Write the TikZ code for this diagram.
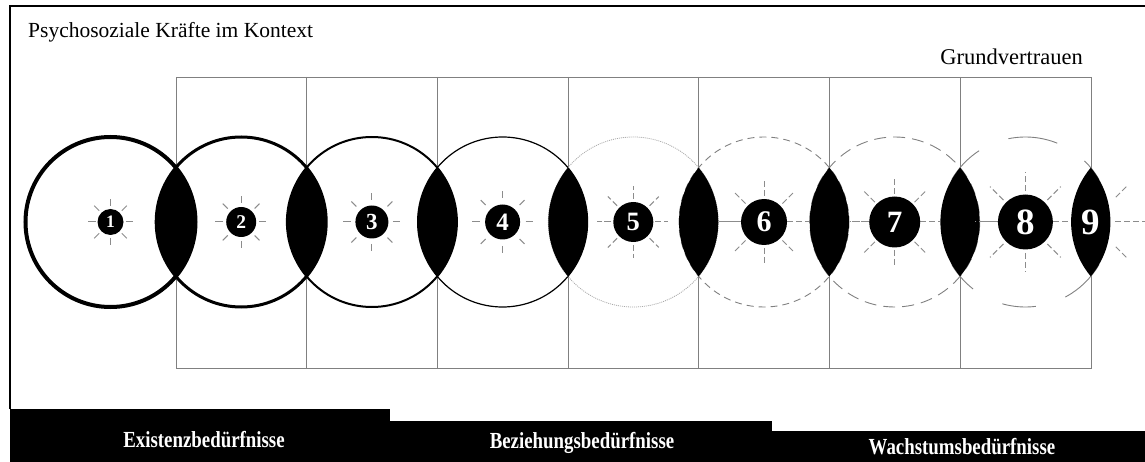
\documentclass[tikz,border=0pt]{standalone}
\usepackage{fontspec}
\usepackage{graphicx}
\setmainfont{Liberation Serif}
\usetikzlibrary{calc}
\definecolor{gridgray}{HTML}{808080}
\definecolor{raygray}{HTML}{8C8C8C}
\definecolor{lightgray}{HTML}{A8A8A8}
\newcommand{\condensed}[1]{\scalebox{0.82}[1]{#1}}
\begin{document}
\begin{tikzpicture}[x=1pt,y=-1pt,
  gridline/.style={draw=gridgray, line width=0.9pt},
  ray/.style={draw=raygray, line width=1pt},
  dray/.style={draw=raygray, line width=1pt, dash pattern=on 6pt off 3pt},
  sun/.style={circle, fill=black, inner sep=0pt, text=white},
  ringa/.style={draw=black, line width=4pt},
  ringb/.style={draw=black, line width=3pt},
  ringc/.style={draw=black, line width=2pt},
  ringd/.style={draw=black, line width=1.2pt},
  ringe/.style={draw=lightgray, line width=0.8pt, dash pattern=on 1pt off 1pt},
  ringf/.style={draw=gridgray, line width=0.9pt, dash pattern=on 7pt off 5pt},
  ringg/.style={draw=gridgray, line width=0.9pt, dash pattern=on 12pt off 7pt},
  ringh/.style={draw=gridgray, line width=0.9pt},
  bar/.style={fill=black},
  barlabel/.style={text=white, font=\bfseries\fontsize{23}{23}\selectfont, inner sep=0pt},
  plain/.style={text=black, inner sep=0pt}
]
\useasboundingbox (0,0) rectangle (1145,462);

% centres
\foreach \k in {1,...,10} \coordinate (c\k) at ({110.5+130.7*(\k-1)},222);

% frame
\draw[line width=1.5pt] (10,409) -- (10,6) -- (1146,6);

% title texts
\node[plain, anchor=base west, font=\fontsize{21.5}{21.5}\selectfont] (title) at (28,38) {Psychosoziale Kräfte im Kontext};
\node[plain, anchor=base east, font=\fontsize{22.5}{22.5}\selectfont] (gv) at (1083,65) {Grundvertrauen};

% grid
\draw[gridline] (176,77) rectangle (1091,368);
\foreach \i in {1,...,6} \draw[gridline] ({176+130.7*\i},77) -- ({176+130.7*\i},368);

% rings
\draw[ringa] (c1) circle (85);
\draw[ringb] (c2) circle (85);
\draw[ringc] (c3) circle (85);
\draw[ringd] (c4) circle (85);
\draw[ringe] (c5) circle (85);
\draw[ringf] (c6) circle (85);
\draw[ringg] (c7) circle (85);
\draw[ringh] (c8) ++(-68:85) arc[start angle=-68, end angle=-101.5, radius=85];
\draw[ringh] (c8) ++(-123:85) arc[start angle=-123, end angle=-150, radius=85];
\draw[ringh] (c8) ++(-30:85) arc[start angle=-30, end angle=-46, radius=85];
\draw[ringh] (c8) ++(62:85) arc[start angle=62, end angle=30, radius=85];
\draw[ringh] (c8) ++(105.7:85) arc[start angle=105.7, end angle=83, radius=85];
\draw[ringh] (c8) ++(150:85) arc[start angle=150, end angle=128, radius=85];

% lenses
\foreach \k [evaluate=\k as \n using int(\k+1)] in {1,...,8} {
  \begin{scope}
    \clip (c\k) circle (85);
    \fill[black] (c\n) circle (85);
  \end{scope}
}

% rays
\foreach \k/\ri/\ro/\st in {1/16/23/ray, 2/19/26/ray, 3/22/29/ray, 4/24/31/ray,
                            5/23/36/dray, 6/26/42/dray, 7/28/45/dray, 8/31/50/dray} {
  \foreach \a in {45,90,...,315}
    \draw[\st] (c\k) ++(\a:\ri) -- ++(\a:\ro-\ri);
}
\foreach \k/\ri/\ro/\st in {1/15/22/ray, 2/18/25/ray, 3/21/28/ray, 4/23/30/ray, 5/22/35/dray} {
  \draw[\st] (c\k) ++(0:\ri) -- ++(0:\ro-\ri);
  \draw[\st] (c\k) ++(180:\ri) -- ++(180:\ro-\ri);
}
\foreach \k/\ri in {6/23, 7/25.5, 8/27.7} {
  \draw[dray] (c\k) ++(0:\ri) -- ++(0:45-\ri);
  \draw[dray] (c\k) ++(180:\ri) -- ++(180:45-\ri);
}
\coordinate (n9) at (1091,222);
\draw[dray] (n9) ++(-45:35) -- ++(-45:16);
\draw[dray] (n9) ++(45:35) -- ++(45:16);
\draw[dray] (n9) ++(0:24) -- ++(0:32);

% suns
\node[sun, minimum size=26pt, font=\bfseries\fontsize{17.5}{17.5}\selectfont] (s1) at (c1) {1};
\node[sun, minimum size=30pt, font=\bfseries\fontsize{19.5}{19.5}\selectfont] (s2) at (c2) {2};
\node[sun, minimum size=33pt, font=\bfseries\fontsize{23}{23}\selectfont] (s3) at (c3) {3};
\node[sun, minimum size=35pt, font=\bfseries\fontsize{25}{25}\selectfont] (s4) at (c4) {4};
\node[sun, minimum size=40pt, font=\bfseries\fontsize{26.5}{26.5}\selectfont] (s5) at (c5) {5};
\node[sun, minimum size=46pt, font=\bfseries\fontsize{30}{30}\selectfont] (s6) at (c6) {6};
\node[sun, minimum size=51pt, font=\bfseries\fontsize{31}{31}\selectfont] (s7) at (c7) {7};
\node[sun, minimum size=55pt, font=\bfseries\fontsize{37}{37}\selectfont] (s8) at (c8) {8};
\node[text=white, inner sep=0pt, font=\bfseries\fontsize{37}{37}\selectfont] (s9) at (n9) {9};

% bars
\fill[bar] (10,409) rectangle (390,462);
\fill[bar] (390,421) rectangle (772,462);
\fill[bar] (772,431) rectangle (1145,462);
\node[barlabel] (b1) at (204,440) {\condensed{Existenzbedürfnisse}};
\node[barlabel] (b2) at (582,443) {\condensed{Beziehungsbedürfnisse}};
\node[barlabel] (b3) at (962,447) {\condensed{Wachstumsbedürfnisse}};
\end{tikzpicture}
\end{document}
